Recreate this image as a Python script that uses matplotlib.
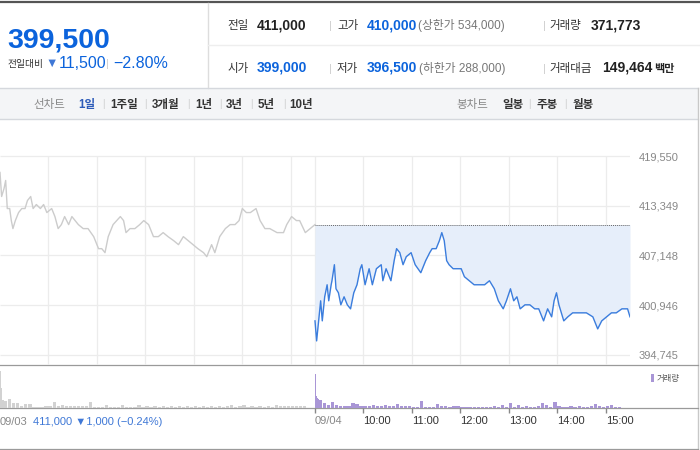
# coding: utf-8
import numpy as np
import matplotlib
matplotlib.use("Agg")
import matplotlib.pyplot as plt
from matplotlib.patches import Rectangle

plt.rcParams["font.family"] = ["Liberation Sans", "Noto Sans CJK KR", "DejaVu Sans"]

W, H = 700, 450

# 09/03 (전일) 분봉, 09:00 부터의 분
prev_times = [0, 2, 5, 7, 9, 12, 14, 16, 19, 23, 27, 31, 34, 38, 41, 45, 50, 54, 58, 64,
              68, 72, 76, 80, 85, 89, 93, 97, 103, 109, 116, 122, 126, 130, 134, 140, 149, 153, 156, 161,
              167, 173, 178, 184, 190, 196, 202, 208, 215, 221, 227, 233, 239, 245, 252, 256, 262, 266, 272, 279,
              285, 291, 296, 300, 305, 310, 317, 322, 328, 334, 343, 351, 355, 361, 367, 371, 378, 384, 390]
prev_prices = [417500, 414500, 415500, 416500, 413000, 413000, 411500, 410500, 411500, 412500,
               413000, 413000, 414000, 414500, 413000, 413500, 413000, 413500, 412500, 413000,
               412000, 410500, 411000, 412000, 411000, 412000, 411500, 411000, 410500, 410500,
               409500, 408000, 408000, 407500, 409500, 411000, 412000, 411500, 410000, 410500,
               410500, 411000, 411500, 411000, 409500, 409500, 410000, 409500, 409000, 408500,
               409500, 409000, 408500, 408000, 407500, 407000, 408500, 407500, 409500, 410500,
               411000, 411000, 411500, 413000, 412500, 412500, 413000, 411500, 410500, 410500,
               410000, 410000, 411000, 412000, 411500, 411500, 410000, 410500, 411000]

# 09/04 (당일)
today_times = [0, 2, 5, 7, 9, 12, 15, 17, 20, 21, 24, 26, 29, 32, 36, 40, 44, 48, 52, 56,
               58, 62, 67, 71, 76, 82, 84, 88, 94, 98, 101, 105, 109, 113, 119, 124, 131, 137, 142, 145,
               150, 154, 157, 160, 163, 166, 171, 175, 181, 185, 191, 197, 204, 210, 216, 222, 227, 233, 237, 242,
               246, 250, 254, 260, 266, 272, 277, 283, 288, 293, 296, 299, 302, 308, 313, 319, 324, 330, 336, 344,
               350, 355, 361, 367, 373, 380, 387, 390]
today_prices = [399000, 396500, 399500, 401500, 399000, 402000, 403500, 401500, 403500, 404000,
                406000, 403000, 402500, 401000, 402000, 401000, 400500, 402500, 403500, 405500,
                406000, 403500, 405500, 403500, 405500, 406000, 404000, 405500, 404000, 406500,
                408000, 407500, 406000, 407000, 407500, 406000, 405000, 406500, 407500, 408000,
                408000, 409000, 410000, 409000, 406500, 406000, 405500, 405500, 405500, 404500,
                404000, 403500, 403500, 403500, 404000, 403000, 401500, 400500, 401500, 403000,
                401500, 402000, 400500, 401000, 401000, 400500, 400500, 399000, 400500, 399500,
                401500, 402500, 401000, 399000, 399500, 400000, 400000, 400000, 400000, 399500,
                398000, 399000, 399500, 400000, 400000, 400500, 400500, 399500]

prev_close = 411000

# 거래량
prev_vol_times = [0, 1, 2, 3, 4] + list(range(5, 390, 5))
prev_vol = [14800, 8000, 3200, 3200, 2800,
            2800, 3600, 2000, 2000, 800, 1600, 1600, 600, 600, 600,
            800, 800, 2400, 1000, 1200, 800, 800, 800, 800, 800,
            800, 2400, 600, 600, 600, 1200, 600, 600, 600, 1200,
            600, 600, 600, 1200, 600, 800, 600, 800, 600, 800,
            600, 800, 600, 800, 600, 800, 600, 800, 600, 800,
            600, 800, 600, 800, 600, 800, 1200, 600, 800, 1200,
            600, 800, 600, 800, 600, 800, 600, 1200, 800, 800,
            800, 800, 800, 800, 800, 0, 0]
today_vol_times = [0, 1, 2, 3, 4] + list(range(5, 390, 5)) + [390]
today_vol = [13600, 4800, 4000, 2800, 3600,
             3200, 2000, 1200, 2400, 1200, 1000, 800, 800, 2000, 1600,
             800, 800, 800, 1200, 800, 800, 1200, 800, 800, 1600,
             800, 800, 800, 600, 600, 2800, 600, 600, 600, 1600,
             800, 800, 600, 800, 800, 600, 600, 600, 400, 400,
             400, 400, 600, 800, 600, 1200, 600, 2000, 600, 1200,
             600, 800, 600, 600, 800, 2000, 1200, 600, 2400, 800,
             600, 600, 800, 600, 800, 600, 600, 800, 1600, 800,
             600, 800, 1200, 600, 400, 0, 0,
             6000]

price_ticks = [394745, 400946, 407148, 413349, 419550]
time_ticks = [390, 450, 510, 570, 630, 690, 750]
time_labels = ["09/04", "10:00", "11:00", "12:00", "13:00", "14:00", "15:00"]


def px_rect(l, t, r, b):
    return [l / W, 1 - b / H, (r - l) / W, (b - t) / H]


def bar_widths(times, last=1.4):
    t = np.array(times, dtype=float)
    d = np.append(np.diff(t), last)
    return np.where(d <= 1, 1.4, d * 0.8)


fig = plt.figure(figsize=(W / 100, H / 100), dpi=100)

# 배경 (픽셀 좌표)
bg = fig.add_axes([0, 0, 1, 1])
bg.set_xlim(0, W)
bg.set_ylim(H, 0)
bg.axis("off")

bg.plot([0, W], [2, 2], color="#555555", lw=1.6)
bg.plot([208, 208], [3, 88], color="#dddddd", lw=1)
bg.plot([208, W], [45, 45], color="#eeeeee", lw=1)
bg.add_patch(Rectangle((0, 88), 698, 31, facecolor="#f4f5f7", edgecolor="none"))
bg.plot([0, 698], [88, 88], color="#d5d8dd", lw=1)
bg.plot([0, 698], [119, 119], color="#d5d8dd", lw=1)
bg.plot([698, 698], [88, 450], color="#c8c8c8", lw=1)
bg.plot([0, 698], [365, 365], color="#9a9a9a", lw=0.9)
bg.plot([0, 698], [408, 408], color="#9a9a9a", lw=0.9)
bg.plot([0, 698], [449, 449], color="#9a9a9a", lw=0.9)

BLUE = "#0b63dc"
DARK = "#222222"
GRAY = "#777777"

# 현재가
bg.text(7, 47, "399,500", fontsize=20.5, fontweight="bold", color=BLUE, va="baseline")
bg.text(7, 67, "전일대비", fontsize=7, color="#333333", va="baseline")
bg.text(45, 67, "▼", fontsize=9, color="#3f78d6", va="baseline")
bg.text(59, 68, "11,500", fontsize=11.5, color=BLUE, va="baseline")
bg.text(106, 67, "|", fontsize=8, color="#cccccc", va="baseline")
bg.text(113, 68, "−2.80%", fontsize=11.5, color=BLUE, va="baseline")

# 시세 표
rows = [
    (29, [("전일", 227, 8.3, "normal", "#333333"), ("411,000", 257, 10, "bold", DARK),
          ("|", 329, 8, "normal", "#cccccc"),
          ("고가", 337, 8.3, "normal", "#333333"), ("410,000", 367, 10, "bold", BLUE),
          ("(상한가 534,000)", 418, 8.5, "normal", GRAY),
          ("|", 543, 8, "normal", "#cccccc"),
          ("거래량", 549, 8.3, "normal", "#333333"), ("371,773", 591, 10, "bold", DARK)]),
    (72, [("시가", 227, 8.3, "normal", "#333333"), ("399,000", 257, 10, "bold", BLUE),
          ("|", 329, 8, "normal", "#cccccc"),
          ("저가", 337, 8.3, "normal", "#333333"), ("396,500", 367, 10, "bold", BLUE),
          ("(하한가 288,000)", 419, 8.5, "normal", GRAY),
          ("|", 543, 8, "normal", "#cccccc"),
          ("거래대금", 549, 8.3, "normal", "#333333"), ("149,464", 602, 10, "bold", DARK),
          ("백만", 654, 8, "bold", DARK)]),
]
for y, items in rows:
    for s, x, fs, fw, c in items:
        bg.text(x, y, s, fontsize=fs, fontweight=fw, color=c, va="baseline")

# 툴바
tb_y = 108
bg.text(33, tb_y, "선차트", fontsize=8.3, color="#888888", va="baseline")
tb_items = [("1일", 78), ("1주일", 110), ("3개월", 152), ("1년", 195), ("3년", 226), ("5년", 258), ("10년", 289)]
for i, (s, x) in enumerate(tb_items):
    bg.text(x, tb_y, s, fontsize=8.3, fontweight="bold",
            color="#2d5bb9" if i == 0 else "#333333", va="baseline")
for x in [102, 144, 187, 219, 250, 283]:
    bg.text(x, tb_y - 1, "|", fontsize=7, color="#cccccc", va="baseline")
bg.text(456, tb_y, "봉차트", fontsize=8.3, color="#888888", va="baseline")
for s, x in [("일봉", 502), ("주봉", 537), ("월봉", 573)]:
    bg.text(x, tb_y, s, fontsize=8.3, fontweight="bold", color="#333333", va="baseline")
for x in [528, 564]:
    bg.text(x, tb_y - 1, "|", fontsize=7, color="#cccccc", va="baseline")

# 가격 차트
ax = fig.add_axes(px_rect(0, 150, 630, 365))
y_bot = 419550 - (365 - 156) * 124.65
y_top = 419550 + 6 * 124.65
ax.set_xlim(0, 780)
ax.set_ylim(y_bot, y_top)
for s in ax.spines.values():
    s.set_visible(False)
ax.set_facecolor("none")

grid_x = [60, 120, 180, 240, 300, 360, 390, 450, 510, 570, 630, 690, 750]
ax.vlines(grid_x, y_bot, price_ticks[-1], color="#ececec", lw=0.9, zorder=0)
ax.hlines(price_ticks, 0, 780, color="#ececec", lw=0.9, zorder=0)

today_x = [390 + t for t in today_times]
ax.fill_between(today_x, today_prices, prev_close, color="#e6eefa", lw=0, zorder=1)
ax.plot([390, 780], [prev_close, prev_close], color="#666666", lw=0.7,
        ls=(0, (1, 1)), zorder=2)
ax.plot(prev_times, prev_prices, color="#cccccc", lw=1, zorder=3)
ax.plot(today_x, today_prices, color="#3b7ddd", lw=1, zorder=4)

ax.set_xticks([])
ax.yaxis.tick_right()
ax.set_yticks(price_ticks)
ax.set_yticklabels(["{:,}".format(v) for v in price_ticks])
ax.tick_params(axis="y", length=0, pad=6, labelsize=8, labelcolor="#888888")

# 거래량 차트
axv = fig.add_axes(px_rect(0, 365, 630, 408))
axv.set_xlim(0, 780)
axv.set_ylim(0, 17200)
for s in axv.spines.values():
    s.set_visible(False)
axv.set_facecolor("none")
axv.bar(prev_vol_times, prev_vol, width=bar_widths(prev_vol_times), align="edge",
        color="#d2d2d2", lw=0)
axv.bar([390 + t for t in today_vol_times], today_vol, width=bar_widths(today_vol_times),
        align="edge", color="#a996d6", lw=0)
axv.set_yticks([])
axv.set_xticks(time_ticks)
axv.set_xticklabels(time_labels)
axv.tick_params(axis="x", length=3.6, width=1, color="#888888", pad=2,
                labelsize=8, labelcolor="#333333")
for i, lab in enumerate(axv.get_xticklabels()):
    lab.set_horizontalalignment("left")
    if i == 0:
        lab.set_color("#888888")

bg.add_patch(Rectangle((651, 374), 2.5, 8, facecolor="#a996d6", edgecolor="none"))
bg.text(657, 381, "거래량", fontsize=6, color="#555555", va="baseline")

bg.text(0, 425, "09/03", fontsize=8, color="#888888", va="baseline")
bg.text(33, 425, "411,000 ▼1,000 (−0.24%)", fontsize=8, color="#3f78d6", va="baseline")

fig.savefig("out.png", dpi=100)
